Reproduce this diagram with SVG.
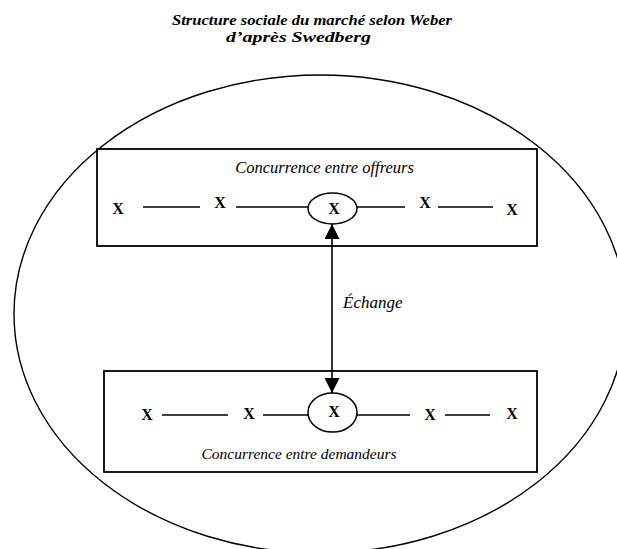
<svg xmlns="http://www.w3.org/2000/svg" width="617" height="549" viewBox="0 0 617 549">
<defs>
<style>
.title{font-family:"Liberation Serif",serif;font-style:italic;font-weight:bold;font-size:15.5px;fill:#000}
.lbl{font-family:"Liberation Serif",serif;font-style:italic;font-size:15.5px;fill:#000}
.x{font-family:"Liberation Serif",serif;font-weight:bold;font-size:16px;fill:#000;text-anchor:middle}
.box{fill:none;stroke:#000;stroke-width:1.8}
.ln{stroke:#000;stroke-width:1.6;fill:none}
.circ{fill:#fff;stroke:#000;stroke-width:1.5}
</style>
<marker id="ah" viewBox="0 0 10 10" refX="10" refY="5" markerWidth="15" markerHeight="15" markerUnits="userSpaceOnUse" orient="auto-start-reverse">
<path d="M0,0 L10,5 L0,10 Z" fill="#000"/>
</marker>
</defs>
<rect width="617" height="549" fill="#fff"/>
<g id="title">
<text class="title" x="172" y="25" textLength="280" lengthAdjust="spacingAndGlyphs">Structure sociale du marché selon Weber</text>
<text class="title" x="226" y="42" textLength="145" lengthAdjust="spacingAndGlyphs">d’après Swedberg</text>
</g>
<g id="marche">
<ellipse cx="320" cy="314" rx="306" ry="239" fill="none" stroke="#000" stroke-width="1.4"/>
</g>
<g id="offreurs">
<rect class="box" x="97" y="149" width="440" height="97"/>
<text class="lbl" x="324.5" y="173" text-anchor="middle" style="font-size:16.5px">Concurrence entre offreurs</text>
<text class="x" x="118" y="214">X</text>
<line class="ln" x1="143" y1="207" x2="200" y2="207"/>
<text class="x" x="220" y="208">X</text>
<line class="ln" x1="236" y1="207" x2="308" y2="207"/>
<ellipse class="circ" cx="332.5" cy="208.5" rx="24.5" ry="15.5"/>
<text class="x" x="334" y="214">X</text>
<line class="ln" x1="357" y1="207" x2="405" y2="207"/>
<text class="x" x="425" y="208">X</text>
<line class="ln" x1="438" y1="207" x2="493" y2="207"/>
<text class="x" x="512" y="215">X</text>
</g>
<g id="demandeurs">
<rect class="box" x="104" y="371" width="433" height="101"/>
<text class="x" x="147" y="420">X</text>
<line class="ln" x1="162" y1="415" x2="228" y2="415"/>
<text class="x" x="249" y="419">X</text>
<line class="ln" x1="263" y1="415" x2="308" y2="415"/>
<ellipse class="circ" cx="332.5" cy="412.5" rx="24.5" ry="19.5"/>
<text class="x" x="334" y="417">X</text>
<line class="ln" x1="357" y1="415" x2="410" y2="415"/>
<text class="x" x="430" y="420">X</text>
<line class="ln" x1="445" y1="415" x2="490" y2="415"/>
<text class="x" x="512" y="419">X</text>
<text class="lbl" x="299" y="459" text-anchor="middle">Concurrence entre demandeurs</text>
</g>
<g id="connectors">
<line class="ln" x1="332" y1="224" x2="332" y2="393" marker-start="url(#ah)" marker-end="url(#ah)"/>
<text class="lbl" x="343" y="308" style="font-size:17px">Échange</text>
</g>
</svg>
